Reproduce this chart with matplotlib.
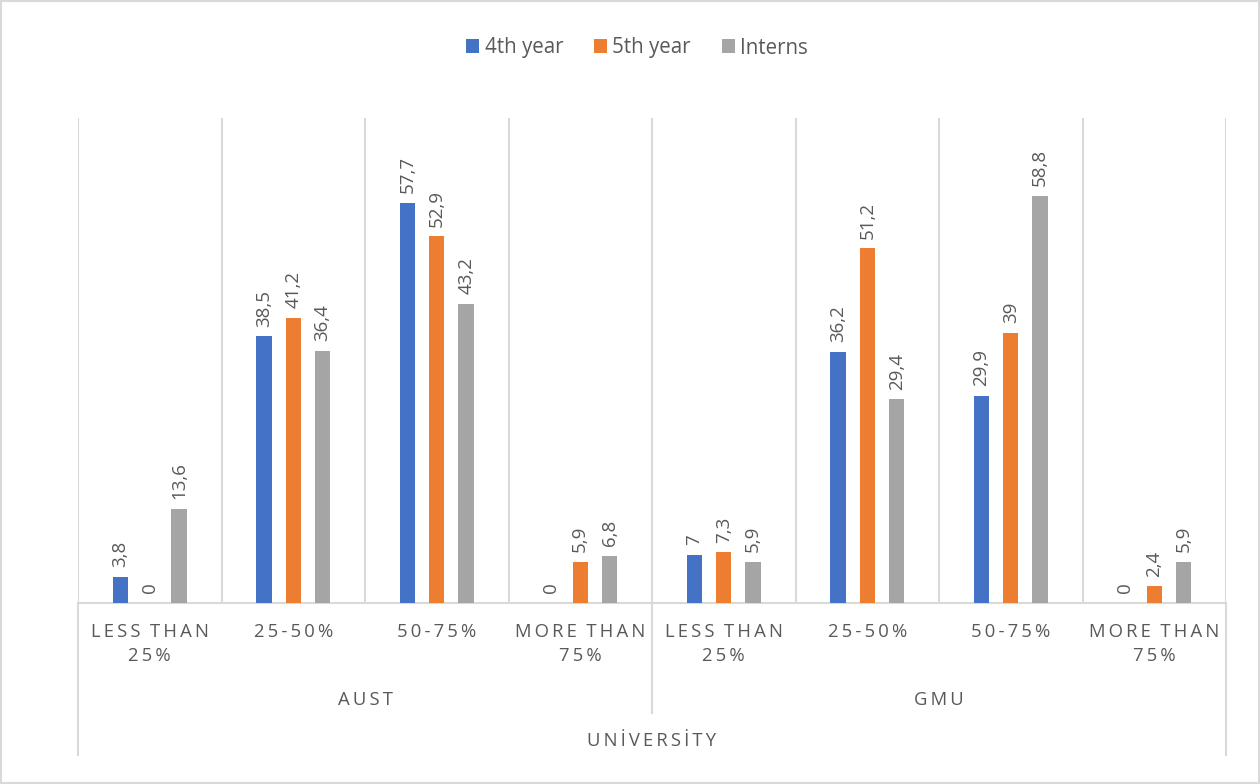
import matplotlib.pyplot as plt
import numpy as np

# DATA
universities = ["AUST", "GMU"]
categories = ["LESS THAN\n25%", "25-50%", "50-75%", "MORE THAN\n75%"]
series_names = ["4th year", "5th year", "Interns"]
fourth_year = [3.8, 38.5, 57.7, 0, 7, 36.2, 29.9, 0]
fifth_year = [0, 41.2, 52.9, 5.9, 7.3, 51.2, 39, 2.4]
interns = [13.6, 36.4, 43.2, 6.8, 5.9, 29.4, 58.8, 5.9]

colors = ["#4472C4", "#ED7D31", "#A5A5A5"]
text_col = "#595959"
line_col = "#D9D9D9"

plt.rcParams['font.family'] = ['Open Sans', 'DejaVu Sans']


def spaced(s):
    # fake excel letter spacing
    return "\n".join("\u2009".join(list(line)).replace("\u2009 \u2009", "  ") for line in s.split("\n"))


def fmt(v):
    return ("%g" % v).replace(".", ",")


fig = plt.figure(figsize=(12.6, 7.84), dpi=100)
ax = fig.add_axes([78 / 1260, 1 - 603 / 784, (1226 - 78) / 1260, (603 - 118) / 784])

n = len(fourth_year)
x = np.arange(n)
w = 0.108
offs = [-0.205, 0, 0.205]
for i, (vals, name) in enumerate(zip([fourth_year, fifth_year, interns], series_names)):
    ax.bar(x + offs[i], vals, width=w, color=colors[i], label=name, zorder=3)
    for xi, v in zip(x, vals):
        ax.annotate(fmt(v), (xi + offs[i], v), xytext=(0, 7), textcoords="offset points",
                    rotation=90, ha="center", va="bottom", fontsize=13.5, color=text_col)

ax.set_xlim(-0.5, n - 0.5)
ax.set_ylim(0, 70)
ax.set_yticks([])
ax.set_xticks([])
for s in ["left", "right", "top"]:
    ax.spines[s].set_visible(False)
ax.spines["bottom"].set_color(line_col)
ax.spines["bottom"].set_linewidth(1.5)
for b in np.arange(-0.5, n + 0.5, 1):
    ax.axvline(b, color=line_col, lw=1.5, zorder=1)

# category labels
cat_labels = categories * len(universities)
for xi, lab in zip(x, cat_labels):
    ax.text(xi, -0.041, spaced(lab), transform=ax.get_xaxis_transform(), ha="center", va="top",
            fontsize=13.3, color=text_col, linespacing=1.45)

# university labels
for j, u in enumerate(universities):
    ax.text(j * 4 + 1.5, -0.2, spaced(u), transform=ax.get_xaxis_transform(), ha="center",
            va="center", fontsize=13.3, color=text_col)

ax.text(0.5, -0.285, spaced("UNİVERSİTY"), transform=ax.transAxes, ha="center", va="center",
        fontsize=13.3, color=text_col)

# separators below axis
for xb, y0 in [(78, 755), (652, 713), (1226, 755)]:
    fig.add_artist(plt.Line2D([xb / 1260, xb / 1260], [1 - 603 / 784, 1 - y0 / 784],
                              color=line_col, lw=1.5))

fig.legend(loc="center", bbox_to_anchor=(637 / 1260, 1 - 48 / 784), ncol=3, frameon=False,
           fontsize=14.8, handlelength=0.65, handleheight=0.65, handletextpad=0.25,
           columnspacing=1.5, labelcolor=text_col)

fig.add_artist(plt.Rectangle((0.001, 0.001), 0.998, 0.998, fill=False, edgecolor=line_col,
                             lw=1.5, transform=fig.transFigure))

plt.savefig("out.png", dpi=100)
plt.close()
